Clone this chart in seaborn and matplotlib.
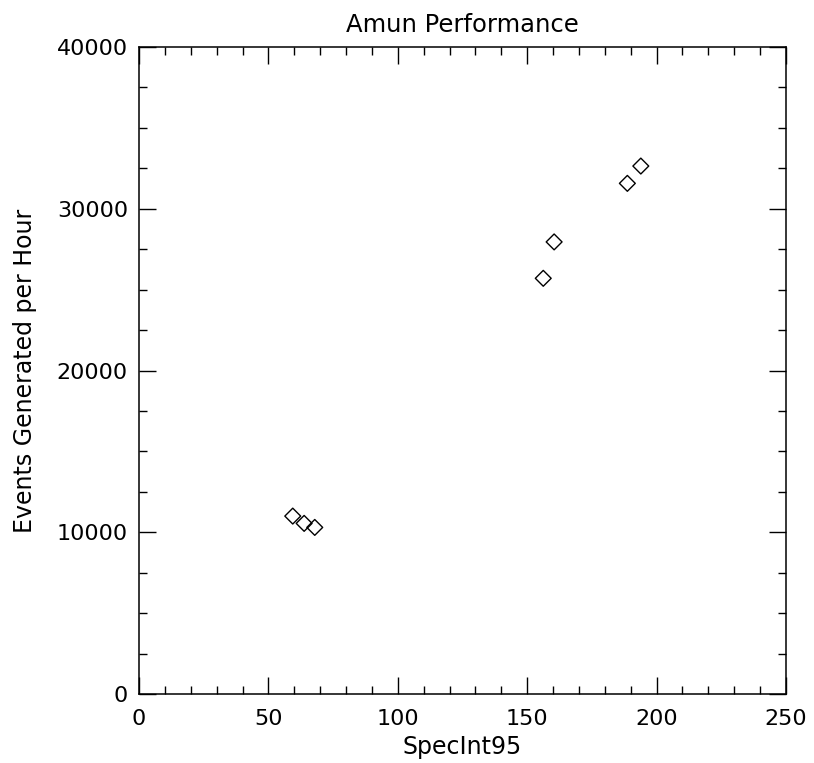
import pandas as pd
import matplotlib
matplotlib.use('Agg')
import matplotlib.pyplot as plt
import seaborn as sns
from matplotlib.ticker import MultipleLocator

# Data
specint = [59.4, 63.8, 67.9, 156.2, 160.4, 188.7, 193.9]
events = [11000, 10550, 10300, 25700, 27950, 31570, 32640]

df = pd.DataFrame({'SpecInt95': specint, 'events': events})

sns.set_style('ticks')
plt.rcParams['font.family'] = ['DejaVu Sans']
plt.rcParams['text.color'] = 'black'
plt.rcParams['axes.labelcolor'] = 'black'

fig = plt.figure(figsize=(8.14, 7.63), dpi=100)
ax = fig.add_axes([0.1708, 0.0904, 0.7948, 0.848])

sns.scatterplot(data=df, x='SpecInt95', y='events', marker='D', s=65,
                facecolor='none', edgecolor='black', linewidth=1.0, ax=ax)

ax.set_xlim(0, 250)
ax.set_ylim(0, 40000)
ax.xaxis.set_major_locator(MultipleLocator(50))
ax.xaxis.set_minor_locator(MultipleLocator(10))
ax.yaxis.set_major_locator(MultipleLocator(10000))
ax.yaxis.set_minor_locator(MultipleLocator(2500))
ax.tick_params(which='both', direction='in', top=True, right=True,
               color='black', labelcolor='black')
ax.tick_params(which='major', length=12, width=1.0, labelsize=16)
ax.tick_params(axis='x', which='major', pad=11)
ax.tick_params(axis='y', which='major', pad=8)
ax.tick_params(which='minor', length=6, width=1.0)
for sp in ax.spines.values():
    sp.set_linewidth(1.1)
    sp.set_color('black')

ax.set_xlabel('SpecInt95', fontsize=17, labelpad=4)
ax.set_ylabel('Events Generated per Hour', fontsize=17, labelpad=14)
ax.set_title('Amun Performance', fontsize=17.5, pad=11)

fig.savefig('out.png', dpi=100)
